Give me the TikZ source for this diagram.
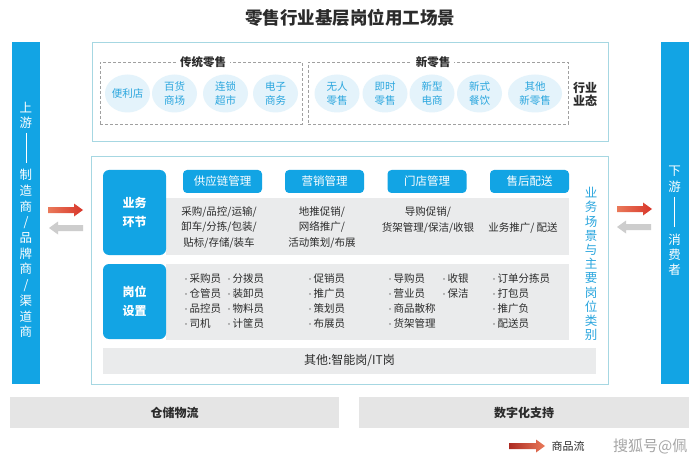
\documentclass[tikz,border=0pt]{standalone}
\usepackage{fontspec}
\setmainfont{Noto Sans CJK SC}
\usetikzlibrary{shapes.geometric}
\definecolor{barblue}{HTML}{12A4E4}
\definecolor{txtblue}{HTML}{2AA6DE}
\definecolor{circfill}{HTML}{E4F3FB}
\definecolor{boxline}{HTML}{A6D7E2}
\definecolor{rowgray}{HTML}{EAEBEC}
\definecolor{botgray}{HTML}{E5E5E5}
\definecolor{dashgray}{HTML}{A0A0A0}
\definecolor{darktxt}{HTML}{2B2B2B}
\definecolor{arrred1}{HTML}{EA7A5A}
\definecolor{arrred2}{HTML}{D8352A}
\definecolor{arrgray}{HTML}{CDCDCD}
\begin{document}
\begin{tikzpicture}[x=1pt,y=-1pt,
  sidebar/.style={fill=barblue,draw=none,minimum width=28,minimum height=342,inner sep=0},
  outerbox/.style={draw=boxline,line width=0.9,fill=white,inner sep=0},
  dashbox/.style={draw=dashgray,line width=0.6,dash pattern=on 3pt off 2pt,inner sep=0},
  grouplabel/.style={fill=white,inner xsep=4,inner ysep=1,font=\fontsize{11.5}{13}\selectfont\bfseries,text=darktxt},
  circ/.style={ellipse,fill=circfill,draw=none,minimum width=45,minimum height=38,inner sep=0,align=center,text=txtblue,font=\fontsize{10.5}{13.5}\selectfont},
  pill/.style={fill=barblue,rounded corners=4,minimum width=79,minimum height=23,inner sep=0,text=white,font=\fontsize{11.5}{13}\selectfont},
  catbox/.style={fill=barblue,rounded corners=6,minimum width=63,inner sep=0,text=white,align=center,font=\fontsize{12}{19}\selectfont\bfseries},
  grayrow/.style={fill=rowgray,draw=none,inner sep=0},
  bizt/.style={align=center,inner sep=0,text=darktxt,font=\fontsize{10.5}{15.5}\selectfont},
  post/.style={align=left,anchor=west,inner sep=0,text=darktxt,font=\fontsize{10.5}{15}\selectfont},
  vtxt/.style={align=center,inner sep=0,text=white},
  botbox/.style={fill=botgray,draw=none,inner sep=0,text=darktxt,font=\fontsize{12}{14}\selectfont\bfseries}
]
\useasboundingbox[fill=white] (0,0) rectangle (700,470);
\newcommand{\bul}{{\color{gray}\fontsize{8}{8}\selectfont •}\kern-0.5pt}

% title
\node[font=\fontsize{17.5}{19}\selectfont\bfseries,text=darktxt] (title) at (350,17.5) {零售行业基层岗位用工场景};

% side bars
\node[sidebar] (lbar) at (26,213) {};
\node[sidebar] (rbar) at (674.5,213) {};
\node[vtxt,font=\fontsize{12.5}{15}\selectfont] (lup) at (26,115.5) {上\\游};
\coordinate (la) at (26,133);
\coordinate (lb) at (26,163);
\draw[white,line width=0.8] (la) -- (lb);
\node[vtxt,font=\fontsize{12.5}{15.7}\selectfont] (lmaker) at (26,253.5) {制\\造\\商\\/\\品\\牌\\商\\/\\渠\\道\\商};
\node[vtxt,font=\fontsize{12.5}{16}\selectfont] (rdown) at (674.5,179) {下\\游};
\coordinate (ra) at (674.5,197);
\coordinate (rb) at (674.5,227);
\draw[white,line width=0.8] (ra) -- (rb);
\node[vtxt,font=\fontsize{12.5}{15}\selectfont] (rcons) at (674.5,255) {消\\费\\者};

% arrows left
\shade[left color=arrred1,right color=arrred2] (48,207) -- (74,207) -- (74,203.5) -- (83,210) -- (74,216.5) -- (74,213) -- (48,213) -- cycle;
\fill[arrgray] (83,225) -- (58,225) -- (58,221.5) -- (49,228) -- (58,234.5) -- (58,231) -- (83,231) -- cycle;
% arrows right
\shade[left color=arrred1,right color=arrred2] (617,206) -- (643,206) -- (643,202.5) -- (652,209) -- (643,215.5) -- (643,212) -- (617,212) -- cycle;
\fill[arrgray] (651,224) -- (626,224) -- (626,220.5) -- (617,227) -- (626,233.5) -- (626,230) -- (651,230) -- cycle;

% top box
\node[outerbox,minimum width=516,minimum height=99] (topbox) at (350,91.5) {};
\node[dashbox,minimum width=202,minimum height=62] (tradbox) at (201,93) {};
\node[dashbox,minimum width=260,minimum height=62] (newbox) at (438,93) {};
\node[grouplabel] (tradlab) at (203,62) {传统零售};
\node[grouplabel] (newlab) at (433,62) {新零售};
\node[circ] (c1) at (127.5,93.5) {便利店};
\node[circ] (c2) at (174.5,93.5) {百货\\商场};
\node[circ] (c3) at (225.5,93.5) {连锁\\超市};
\node[circ] (c4) at (275.5,93.5) {电子\\商务};
\node[circ] (c5) at (337,93.5) {无人\\零售};
\node[circ] (c6) at (385,93.5) {即时\\零售};
\node[circ] (c7) at (432,93.5) {新型\\电商};
\node[circ] (c8) at (479.5,93.5) {新式\\餐饮};
\node[circ,minimum width=54] (c9) at (535,93.5) {其他\\新零售};
\node[align=center,inner sep=0,text=darktxt,font=\fontsize{12}{13.5}\selectfont\bfseries] (hyyt) at (585,94.5) {行业\\业态};

% main box
\node[outerbox,minimum width=517,minimum height=228] (mainbox) at (349.5,270) {};
\node[grayrow,minimum width=403,minimum height=57] (bizrow) at (367.5,226.5) {};
\node[grayrow,minimum width=403,minimum height=76] (posrow) at (367.5,302) {};
\node[catbox,minimum height=85] (biz) at (134.5,212.5) {业务\\环节};
\node[catbox,minimum height=75] (pos) at (134.5,301.5) {岗位\\设置};
\node[pill] (p1) at (222.5,181.5) {供应链管理};
\node[pill] (p2) at (324.5,181.5) {营销管理};
\node[pill] (p3) at (427,181.5) {门店管理};
\node[pill] (p4) at (529.5,181.5) {售后配送};

\node[bizt] (b1) at (219,227.5) {采购/品控/运输/\\卸车/分拣/包装/\\贴标/存储/装车};
\node[bizt] (b2) at (322,227.5) {地推促销/\\网络推广/\\活动策划/布展};
\node[bizt] (b3) at (428,220) {导购促销/\\货架管理/保洁/收银};
\node[bizt] (b4) at (523,228) {业务推广/ 配送};

\node[post] (q1) at (182,301) {\bul 采购员\\\bul 仓管员\\\bul 品控员\\\bul 司机};
\node[post] (q2) at (225,301) {\bul 分拨员\\\bul 装卸员\\\bul 物料员\\\bul 计筐员};
\node[post] (q3) at (306,301) {\bul 促销员\\\bul 推广员\\\bul 策划员\\\bul 布展员};
\node[post] (q4) at (386,301) {\bul 导购员\\\bul 营业员\\\bul 商品散称\\\bul 货架管理};
\node[post] (q5) at (440,286) {\bul 收银\\\bul 保洁};
\node[post] (q6) at (490,301) {\bul 订单分拣员\\\bul 打包员\\\bul 推广负\\\bul 配送员};

\node[align=center,inner sep=0,text=txtblue,font=\fontsize{12.5}{14.2}\selectfont] (scene) at (591,264) {业\\务\\场\\景\\与\\主\\要\\岗\\位\\类\\别};

\node[grayrow,minimum width=493,minimum height=26,text=darktxt,font=\fontsize{12}{14}\selectfont] (other) at (349.5,361) {其他:智能岗/IT岗};

% bottom boxes
\node[botbox,minimum width=329,minimum height=31] (store) at (174.5,412.5) {仓储物流};
\node[botbox,minimum width=330,minimum height=31] (digi) at (524,412.5) {数字化支持};

% legend
\shade[left color=arrred2!80!black,right color=arrred1] (509,443) -- (536,443) -- (536,439.5) -- (545,446) -- (536,452.5) -- (536,449) -- (509,449) -- cycle;
\node[inner sep=0,text=darktxt,font=\fontsize{11}{13}\selectfont] (leg) at (568,446) {商品流};
\node[anchor=west,inner sep=0,text=gray!70,font=\fontsize{15}{17}\selectfont] (wm) at (613,446) {搜狐号@佩};
\end{tikzpicture}
\end{document}
